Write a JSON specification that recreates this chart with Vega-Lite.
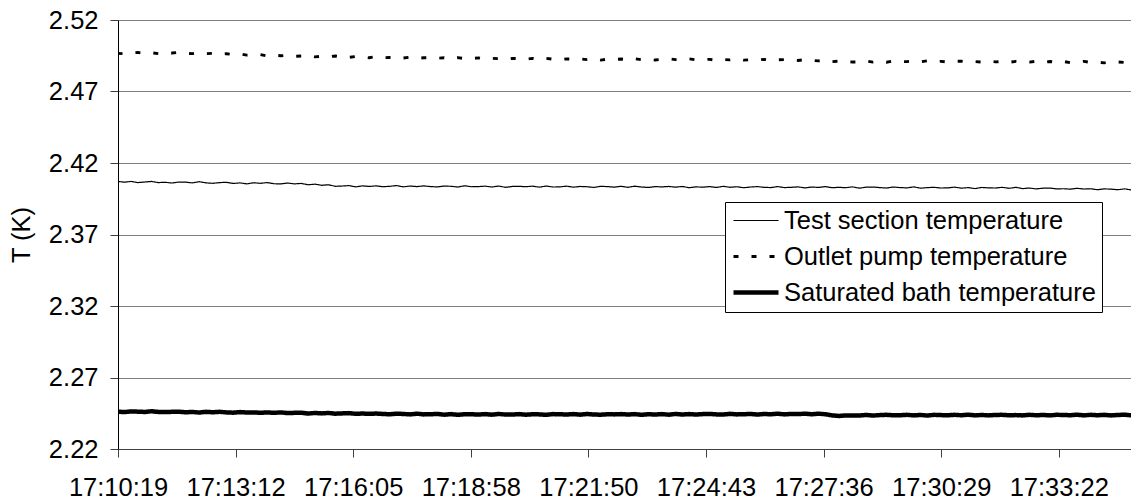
{
"$schema": "https://vega.github.io/schema/vega-lite/v6.json",
"width": 1013, "height": 429,
"autosize": {"type": "none"},
"padding": {"left": 118, "top": 20, "right": 0, "bottom": 55},
"background": "white",
"config": {"view": {"stroke": null}, "font": "Liberation Sans"},
"data": {"values": [
{"t":61819,"a":2.4071,"b":2.4967,"c":2.2461},
{"t":61829,"a":2.4066,"b":2.4964,"c":2.2458},
{"t":61839,"a":2.4071,"b":2.4971,"c":2.2463},
{"t":61849,"a":2.4063,"b":2.4973,"c":2.2461},
{"t":61859,"a":2.4067,"b":2.4966,"c":2.2459},
{"t":61869,"a":2.4071,"b":2.4971,"c":2.2464},
{"t":61879,"a":2.4063,"b":2.4965,"c":2.2459},
{"t":61889,"a":2.4065,"b":2.4973,"c":2.2458},
{"t":61899,"a":2.4060,"b":2.4969,"c":2.2460},
{"t":61909,"a":2.4067,"b":2.4974,"c":2.2461},
{"t":61919,"a":2.4066,"b":2.4967,"c":2.2457},
{"t":61929,"a":2.4061,"b":2.4965,"c":2.2459},
{"t":61939,"a":2.4069,"b":2.4972,"c":2.2455},
{"t":61949,"a":2.4061,"b":2.4965,"c":2.2460},
{"t":61959,"a":2.4058,"b":2.4967,"c":2.2457},
{"t":61969,"a":2.4063,"b":2.4959,"c":2.2460},
{"t":61979,"a":2.4065,"b":2.4964,"c":2.2456},
{"t":61989,"a":2.4057,"b":2.4958,"c":2.2454},
{"t":61999,"a":2.4061,"b":2.4963,"c":2.2458},
{"t":62009,"a":2.4054,"b":2.4954,"c":2.2455},
{"t":62019,"a":2.4062,"b":2.4956,"c":2.2456},
{"t":62029,"a":2.4058,"b":2.4958,"c":2.2453},
{"t":62039,"a":2.4063,"b":2.4948,"c":2.2456},
{"t":62049,"a":2.4055,"b":2.4954,"c":2.2453},
{"t":62059,"a":2.4054,"b":2.4950,"c":2.2456},
{"t":62069,"a":2.4060,"b":2.4953,"c":2.2451},
{"t":62079,"a":2.4054,"b":2.4946,"c":2.2453},
{"t":62089,"a":2.4057,"b":2.4948,"c":2.2454},
{"t":62099,"a":2.4048,"b":2.4952,"c":2.2448},
{"t":62109,"a":2.4052,"b":2.4942,"c":2.2452},
{"t":62119,"a":2.4044,"b":2.4947,"c":2.2449},
{"t":62129,"a":2.4048,"b":2.4942,"c":2.2452},
{"t":62139,"a":2.4037,"b":2.4948,"c":2.2447},
{"t":62149,"a":2.4039,"b":2.4942,"c":2.2449},
{"t":62159,"a":2.4042,"b":2.4939,"c":2.2451},
{"t":62169,"a":2.4033,"b":2.4944,"c":2.2446},
{"t":62179,"a":2.4040,"b":2.4942,"c":2.2448},
{"t":62189,"a":2.4036,"b":2.4936,"c":2.2446},
{"t":62199,"a":2.4040,"b":2.4944,"c":2.2448},
{"t":62209,"a":2.4034,"b":2.4937,"c":2.2445},
{"t":62219,"a":2.4037,"b":2.4938,"c":2.2443},
{"t":62229,"a":2.4042,"b":2.4940,"c":2.2447},
{"t":62239,"a":2.4033,"b":2.4934,"c":2.2445},
{"t":62249,"a":2.4039,"b":2.4940,"c":2.2442},
{"t":62259,"a":2.4035,"b":2.4931,"c":2.2447},
{"t":62269,"a":2.4040,"b":2.4936,"c":2.2442},
{"t":62279,"a":2.4035,"b":2.4936,"c":2.2443},
{"t":62289,"a":2.4033,"b":2.4933,"c":2.2445},
{"t":62299,"a":2.4039,"b":2.4936,"c":2.2440},
{"t":62309,"a":2.4037,"b":2.4929,"c":2.2444},
{"t":62319,"a":2.4032,"b":2.4937,"c":2.2439},
{"t":62329,"a":2.4041,"b":2.4930,"c":2.2443},
{"t":62339,"a":2.4034,"b":2.4930,"c":2.2443},
{"t":62349,"a":2.4035,"b":2.4935,"c":2.2441},
{"t":62359,"a":2.4038,"b":2.4927,"c":2.2444},
{"t":62369,"a":2.4032,"b":2.4932,"c":2.2440},
{"t":62379,"a":2.4039,"b":2.4930,"c":2.2445},
{"t":62389,"a":2.4030,"b":2.4924,"c":2.2441},
{"t":62399,"a":2.4036,"b":2.4932,"c":2.2441},
{"t":62409,"a":2.4037,"b":2.4929,"c":2.2444},
{"t":62419,"a":2.4034,"b":2.4926,"c":2.2440},
{"t":62429,"a":2.4038,"b":2.4932,"c":2.2443},
{"t":62439,"a":2.4031,"b":2.4924,"c":2.2442},
{"t":62449,"a":2.4039,"b":2.4932,"c":2.2439},
{"t":62459,"a":2.4032,"b":2.4926,"c":2.2444},
{"t":62469,"a":2.4033,"b":2.4922,"c":2.2443},
{"t":62479,"a":2.4038,"b":2.4928,"c":2.2441},
{"t":62489,"a":2.4031,"b":2.4926,"c":2.2444},
{"t":62499,"a":2.4036,"b":2.4928,"c":2.2440},
{"t":62509,"a":2.4034,"b":2.4923,"c":2.2445},
{"t":62519,"a":2.4029,"b":2.4929,"c":2.2441},
{"t":62529,"a":2.4037,"b":2.4920,"c":2.2440},
{"t":62539,"a":2.4035,"b":2.4926,"c":2.2443},
{"t":62549,"a":2.4031,"b":2.4924,"c":2.2442},
{"t":62559,"a":2.4037,"b":2.4927,"c":2.2444},
{"t":62569,"a":2.4030,"b":2.4921,"c":2.2441},
{"t":62579,"a":2.4038,"b":2.4929,"c":2.2444},
{"t":62589,"a":2.4032,"b":2.4922,"c":2.2439},
{"t":62599,"a":2.4029,"b":2.4926,"c":2.2443},
{"t":62609,"a":2.4035,"b":2.4920,"c":2.2441},
{"t":62619,"a":2.4033,"b":2.4925,"c":2.2444},
{"t":62629,"a":2.4036,"b":2.4928,"c":2.2440},
{"t":62639,"a":2.4031,"b":2.4923,"c":2.2445},
{"t":62649,"a":2.4036,"b":2.4920,"c":2.2441},
{"t":62659,"a":2.4027,"b":2.4928,"c":2.2444},
{"t":62669,"a":2.4033,"b":2.4921,"c":2.2441},
{"t":62679,"a":2.4031,"b":2.4923,"c":2.2444},
{"t":62689,"a":2.4035,"b":2.4925,"c":2.2445},
{"t":62699,"a":2.4029,"b":2.4918,"c":2.2442},
{"t":62709,"a":2.4037,"b":2.4924,"c":2.2441},
{"t":62719,"a":2.4030,"b":2.4921,"c":2.2446},
{"t":62729,"a":2.4034,"b":2.4927,"c":2.2442},
{"t":62739,"a":2.4027,"b":2.4919,"c":2.2443},
{"t":62749,"a":2.4032,"b":2.4922,"c":2.2445},
{"t":62759,"a":2.4035,"b":2.4919,"c":2.2441},
{"t":62769,"a":2.4030,"b":2.4925,"c":2.2445},
{"t":62779,"a":2.4028,"b":2.4916,"c":2.2443},
{"t":62789,"a":2.4035,"b":2.4922,"c":2.2447},
{"t":62799,"a":2.4028,"b":2.4923,"c":2.2442},
{"t":62809,"a":2.4030,"b":2.4919,"c":2.2445},
{"t":62819,"a":2.4033,"b":2.4917,"c":2.2444},
{"t":62829,"a":2.4026,"b":2.4923,"c":2.2447},
{"t":62839,"a":2.4032,"b":2.4918,"c":2.2443},
{"t":62849,"a":2.4029,"b":2.4914,"c":2.2447},
{"t":62859,"a":2.4035,"b":2.4920,"c":2.2443},
{"t":62869,"a":2.4027,"b":2.4909,"c":2.2435},
{"t":62879,"a":2.4030,"b":2.4912,"c":2.2431},
{"t":62889,"a":2.4027,"b":2.4913,"c":2.2435},
{"t":62899,"a":2.4033,"b":2.4906,"c":2.2434},
{"t":62909,"a":2.4024,"b":2.4907,"c":2.2434},
{"t":62919,"a":2.4031,"b":2.4913,"c":2.2438},
{"t":62929,"a":2.4032,"b":2.4906,"c":2.2434},
{"t":62939,"a":2.4028,"b":2.4912,"c":2.2437},
{"t":62949,"a":2.4025,"b":2.4905,"c":2.2439},
{"t":62959,"a":2.4032,"b":2.4913,"c":2.2436},
{"t":62969,"a":2.4028,"b":2.4910,"c":2.2436},
{"t":62979,"a":2.4026,"b":2.4909,"c":2.2439},
{"t":62989,"a":2.4033,"b":2.4914,"c":2.2435},
{"t":62999,"a":2.4024,"b":2.4908,"c":2.2438},
{"t":63009,"a":2.4028,"b":2.4915,"c":2.2434},
{"t":63019,"a":2.4030,"b":2.4907,"c":2.2439},
{"t":63029,"a":2.4025,"b":2.4911,"c":2.2437},
{"t":63039,"a":2.4026,"b":2.4906,"c":2.2436},
{"t":63049,"a":2.4031,"b":2.4911,"c":2.2439},
{"t":63059,"a":2.4024,"b":2.4912,"c":2.2436},
{"t":63069,"a":2.4028,"b":2.4907,"c":2.2440},
{"t":63079,"a":2.4021,"b":2.4909,"c":2.2435},
{"t":63089,"a":2.4029,"b":2.4906,"c":2.2438},
{"t":63099,"a":2.4026,"b":2.4912,"c":2.2435},
{"t":63109,"a":2.4025,"b":2.4907,"c":2.2438},
{"t":63119,"a":2.4030,"b":2.4910,"c":2.2439},
{"t":63129,"a":2.4023,"b":2.4904,"c":2.2436},
{"t":63139,"a":2.4030,"b":2.4911,"c":2.2437},
{"t":63149,"a":2.4021,"b":2.4908,"c":2.2435},
{"t":63159,"a":2.4025,"b":2.4905,"c":2.2439},
{"t":63169,"a":2.4019,"b":2.4912,"c":2.2436},
{"t":63179,"a":2.4024,"b":2.4904,"c":2.2438},
{"t":63189,"a":2.4025,"b":2.4910,"c":2.2435},
{"t":63199,"a":2.4019,"b":2.4904,"c":2.2439},
{"t":63209,"a":2.4020,"b":2.4910,"c":2.2438},
{"t":63219,"a":2.4017,"b":2.4902,"c":2.2436},
{"t":63229,"a":2.4023,"b":2.4907,"c":2.2440},
{"t":63239,"a":2.4018,"b":2.4911,"c":2.2435},
{"t":63249,"a":2.4020,"b":2.4903,"c":2.2439},
{"t":63259,"a":2.4013,"b":2.4905,"c":2.2436},
{"t":63269,"a":2.4019,"b":2.4900,"c":2.2439},
{"t":63279,"a":2.4017,"b":2.4908,"c":2.2435},
{"t":63289,"a":2.4013,"b":2.4907,"c":2.2438},
{"t":63299,"a":2.4019,"b":2.4903,"c":2.2440},
{"t":63309,"a":2.4011,"b":2.4911,"c":2.2435}
]},
"transform": [{"fold": ["a", "b", "c"], "as": ["k", "v"]}],
"mark": {"type": "line", "color": "black", "strokeCap": "butt", "clip": true},
"encoding": {
  "x": {"field": "t", "type": "quantitative",
    "scale": {"domain": [61819.7, 63308.2], "nice": false, "zero": false},
    "axis": {"values": [61819.7, 61992.5, 62165.3, 62338.1, 62510.9, 62683.7, 62856.5, 63029.3, 63202.1],
      "labelExpr": "utcFormat(datum.value*1000, '%H:%M:%S')",
      "grid": false, "title": null, "tickSize": 8, "tickColor": "#404040", "domainColor": "#404040",
      "labelFontSize": 25.5, "labelColor": "black", "labelPadding": 18, "labelFont": "Liberation Sans", "labelOverlap": false, "labelFlush": false}},
  "y": {"field": "v", "type": "quantitative",
    "scale": {"domain": [2.22, 2.52], "nice": false, "zero": false},
    "axis": {"values": [2.22, 2.27, 2.32, 2.37, 2.42, 2.47, 2.52], "format": ".2f",
      "grid": true, "gridColor": "#808080", "gridWidth": 1, "tickSize": 8, "tickColor": "#404040", "domainColor": "black",
      "labelFontSize": 25.5, "labelColor": "black", "labelPadding": 12, "labelFont": "Liberation Sans",
      "title": "T (K)", "titleFontSize": 25.5, "titleFontWeight": "normal", "titleColor": "black", "titleFont": "Liberation Sans", "titlePadding": 14}},
  "strokeDash": {"field": "k", "type": "nominal",
    "scale": {"domain": ["a", "b", "c"], "range": [[1, 0], [5, 13], [1, 0]]},
    "legend": {"title": null, "orient": "none", "legendX": 607, "legendY": 182,
      "labelExpr": "datum.label == 'a' ? 'Test section temperature' : datum.label == 'b' ? 'Outlet pump temperature' : 'Saturated bath temperature'",
      "symbolType": "stroke", "symbolSize": 2025, "symbolStrokeColor": "black", "clipHeight": 25,
      "labelFontSize": 25.5, "labelColor": "black", "labelFont": "Liberation Sans", "labelLimit": 500, "labelOffset": 3,
      "strokeColor": "black", "fillColor": "white", "padding": 6, "rowPadding": 10}},
  "strokeWidth": {"field": "k", "type": "ordinal",
    "scale": {"domain": ["a", "b", "c"], "range": [1.2, 4.5, 4]},
    "legend": {"title": null, "orient": "none", "legendX": 607, "legendY": 182,
      "labelExpr": "datum.label == 'a' ? 'Test section temperature' : datum.label == 'b' ? 'Outlet pump temperature' : 'Saturated bath temperature'",
      "symbolType": "stroke", "symbolSize": 2025, "symbolStrokeColor": "black", "clipHeight": 25,
      "labelFontSize": 25.5, "labelColor": "black", "labelFont": "Liberation Sans", "labelLimit": 500, "labelOffset": 3,
      "strokeColor": "black", "fillColor": "white", "padding": 6, "rowPadding": 10}}
}
}
